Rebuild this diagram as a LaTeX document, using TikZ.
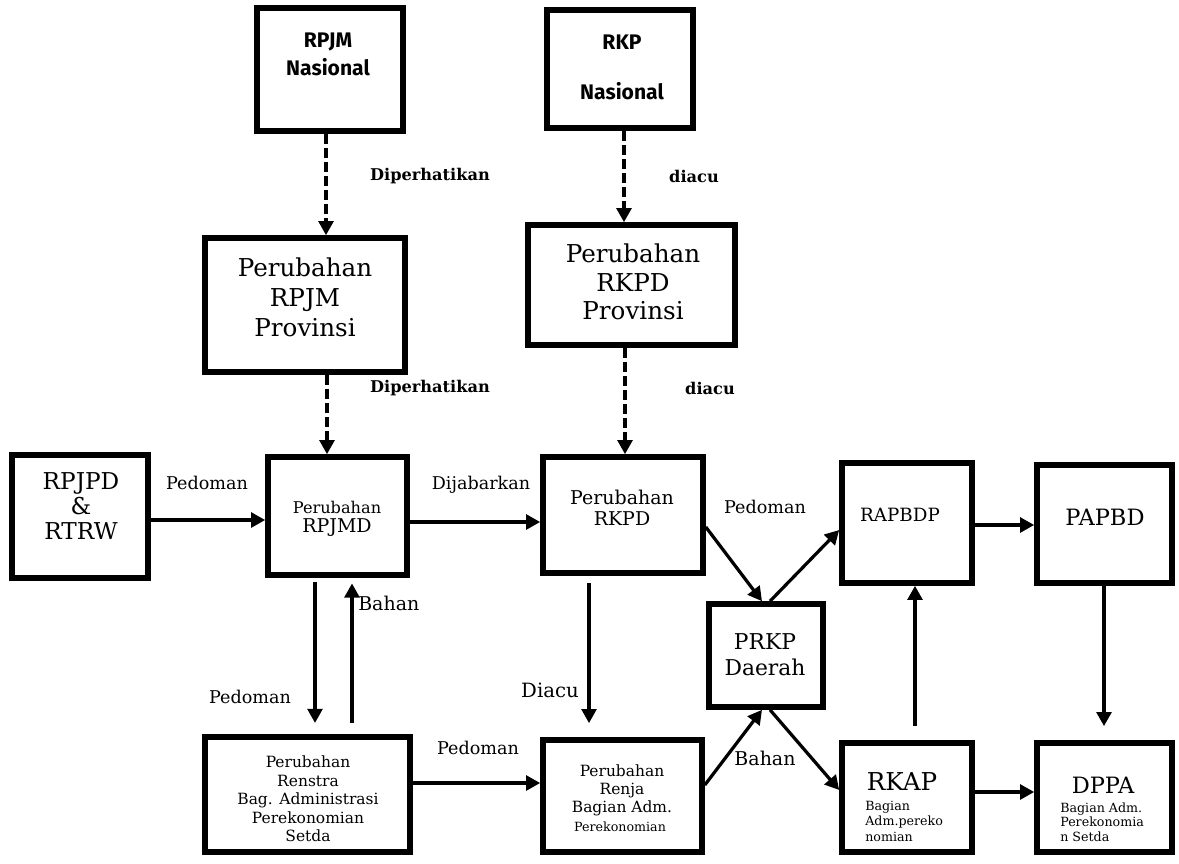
\documentclass[tikz,border=0pt]{standalone}
\usepackage{fontspec}
\setmainfont{DejaVu Serif}
\newfontfamily\firasans{Fira Sans}
\usetikzlibrary{arrows.meta,fit}
\tikzset{
  box/.style={draw, line width=4pt, inner sep=0pt},
  arr/.style={-{Triangle[length=10pt,width=10.5pt]}, line width=2.3pt},
  darr/.style={arr, dash pattern=on 7pt off 3pt},
  txt/.style={align=center, inner sep=0pt},
  lab/.style={inner sep=0pt, font=\fontsize{12.5}{15}\selectfont},
  blab/.style={inner sep=0pt, font=\fontsize{11.5}{14}\selectfont\bfseries},
}
\begin{document}
\begin{tikzpicture}[x=0.025cm, y=-0.025cm]
\useasboundingbox[fill=white] (0,0) rectangle (1179,863);
% boxes
\node[box, fit={(257,8) (403,131)}] (rpjmn) {};
\node[box, fit={(547,10) (693,128)}] (rkpn) {};
\node[box, fit={(205,238) (405,372)}] (rpjmp) {};
\node[box, fit={(528,225) (735,345)}] (rkpdp) {};
\node[box, fit={(12,455) (148,578)}] (rpjpd) {};
\node[box, fit={(268,457) (407,575)}] (rpjmd) {};
\node[box, fit={(543,457) (703,573)}] (rkpd) {};
\node[box, fit={(709,604) (823,707)}] (prkp) {};
\node[box, fit={(842,463) (972,583)}] (rapbdp) {};
\node[box, fit={(1037,465) (1172,583)}] (papbd) {};
\node[box, fit={(205,737) (410,852)}] (renstra) {};
\node[box, fit={(543,740) (702,852)}] (renja) {};
\node[box, fit={(842,743) (972,852)}] (rkap) {};
\node[box, fit={(1037,743) (1172,852)}] (dppa) {};
% texts in boxes
\node[txt, font=\firasans\bfseries\fontsize{15}{20}\selectfont] (rpjmn-t) at (328,54) {RPJM\\Nasional};
\node[txt, font=\firasans\bfseries\fontsize{15}{35.5}\selectfont] (rkpn-t) at (622,67) {RKP\\Nasional};
\node[txt, font=\fontsize{17.5}{21.3}\selectfont] (rpjmp-t) at (305,297) {Perubahan\\RPJM\\Provinsi};
\node[txt, font=\fontsize{17.5}{20.3}\selectfont] (rkpdp-t) at (633,282) {Perubahan\\RKPD\\Provinsi};
\node[txt, font=\fontsize{16.5}{17.5}\selectfont] (rpjpd-t) at (81,506) {RPJPD\\\&\\RTRW};
\node[txt, font=\fontsize{11.5}{14}\selectfont] (rpjmd-t1) at (337,507) {Perubahan};
\node[txt, font=\fontsize{13.5}{16}\selectfont] (rpjmd-t2) at (337,528) {RPJMD};
\node[txt, font=\fontsize{13.5}{15}\selectfont] (rkpd-t) at (622,508) {Perubahan\\RKPD};
\node[txt, font=\fontsize{15.5}{18.5}\selectfont] (prkp-t) at (765,655) {PRKP\\Daerah};
\node[txt, font=\fontsize{13}{15}\selectfont] (rapbdp-t) at (900,515) {RAPBDP};
\node[txt, font=\fontsize{16}{18}\selectfont] (papbd-t) at (1105,517) {PAPBD};
\node[txt, font=\fontsize{11}{13.2}\selectfont] (renstra-t) at (308,799) {Perubahan\\Renstra\\Bag. Administrasi\\Perekonomian\\Setda};
\node[txt, font=\fontsize{11}{12.8}\selectfont] (renja-t1) at (622,790) {Perubahan\\Renja\\Bagian Adm.};
\node[txt, font=\fontsize{9}{11}\selectfont] (renja-t2) at (620,827) {Perekonomian};
\node[txt, font=\fontsize{17.5}{20}\selectfont] (rkap-t1) at (902,782) {RKAP};
\node[txt, align=left, anchor=west, font=\fontsize{9}{11}\selectfont] (rkap-t2) at (865,821) {Bagian\\Adm.pereko\\nomian};
\node[txt, font=\fontsize{16}{20}\selectfont] (dppa-t1) at (1103,785) {DPPA};
\node[txt, align=left, anchor=west, font=\fontsize{9}{10.3}\selectfont] (dppa-t2) at (1060,822) {Bagian Adm.\\Perekonomia\\n Setda};
% dashed connectors
\draw[darr] (rpjmn.south -| 326,0) -- (rpjmp.north -| 326,0);
\draw[darr] (rpjmp.south -| 327,0) -- (rpjmd.north -| 327,0);
\draw[darr] (rkpn.south -| 624,0) -- (rkpdp.north -| 624,0);
\draw[darr] (rkpdp.south -| 625,0) -- (rkpd.north -| 625,0);
% solid connectors
\draw[arr] (rpjpd.east |- 0,520) -- (rpjmd.west |- 0,520);
\draw[arr] (rpjmd.east |- 0,522) -- (rkpd.west |- 0,522);
\draw[arr] (rapbdp.east |- 0,525) -- (papbd.west |- 0,525);
\draw[arr] (rkpd.east |- 0,527) -- (prkp.north -| 762,0);
\draw[arr] (prkp.north -| 770,0) -- (rapbdp.west |- 0,530);
\draw[arr] (renja.east |- 0,785) -- (prkp.south -| 762,0);
\draw[arr] (prkp.south -| 770,0) -- (rkap.west |- 0,790);
\draw[arr, shorten <=3pt, shorten >=8pt] (rpjmd.south -| 315,0) -- (renstra.north -| 315,0);
\draw[arr, shorten <=8pt, shorten >=4pt] (renstra.north -| 352,0) -- (rpjmd.south -| 352,0);
\draw[arr, shorten <=5pt, shorten >=10pt] (rkpd.south -| 589,0) -- (renja.north -| 589,0);
\draw[arr] (renstra.east |- 0,783) -- (renja.west |- 0,783);
\draw[arr, shorten <=10pt] (rkap.north -| 915,0) -- (rapbdp.south -| 915,0);
\draw[arr, shorten >=10pt] (papbd.south -| 1104,0) -- (dppa.north -| 1104,0);
\draw[arr] (rkap.east |- 0,792) -- (dppa.west |- 0,792);
% labels
\node[blab] (l-dip1) at (430,176) {Diperhatikan};
\node[blab] (l-dia1) at (694,176) {diacu};
\node[blab] (l-dip2) at (430,388) {Diperhatikan};
\node[blab] (l-dia2) at (710,388) {diacu};
\node[lab] (l-ped1) at (207,483) {Pedoman};
\node[lab] (l-dij) at (481,485) {Dijabarkan};
\node[lab] (l-ped2) at (765,507) {Pedoman};
\node[lab, anchor=west, font=\fontsize{13.5}{16}\selectfont] (l-bah1) at (358,603) {Bahan};
\node[lab] (l-ped3) at (250,697) {Pedoman};
\node[lab, font=\fontsize{14}{16}\selectfont] (l-diacu) at (550,690) {Diacu};
\node[lab] (l-ped4) at (478,748) {Pedoman};
\node[lab, font=\fontsize{13.5}{16}\selectfont] (l-bah2) at (765,758) {Bahan};
\end{tikzpicture}
\end{document}
